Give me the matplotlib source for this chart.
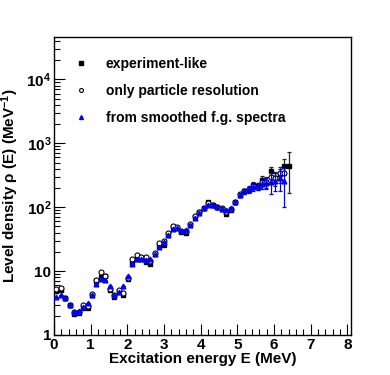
import numpy as np
import matplotlib
matplotlib.use("Agg")
import matplotlib.pyplot as plt
from matplotlib.lines import Line2D
from matplotlib.ticker import FixedLocator, FuncFormatter, MultipleLocator

plt.rcParams['font.family'] = ['Liberation Sans', 'DejaVu Sans']
plt.rcParams['font.weight'] = 'bold'
plt.rcParams['mathtext.fontset'] = 'custom'
plt.rcParams['mathtext.rm'] = 'Liberation Sans:bold'
plt.rcParams['mathtext.bf'] = 'Liberation Sans:bold'
plt.rcParams['mathtext.it'] = 'Liberation Sans:bold'

# ---- data ----
bin_width = 0.122
first_center = 0.06
n_bins = 53
energy = first_center + bin_width * np.arange(n_bins)

experiment_like = [4.8, 5.0, 3.8, 3.0, 2.15, 2.2, 2.6, 2.65, 4.3, 6.9,
                   8.1, 8.3, 5.0, 4.0, 4.7, 4.3, 7.4, 13.5, 15.7, 15.6,
                   13.7, 12.8, 18.8, 25, 26, 37, 47, 47, 41, 40,
                   53, 70, 83, 97, 119, 109, 100, 95, 79, 91,
                   119, 157, 177, 185, 225, 213, 269, 247, 363, 286,
                   333, 446, 446]
experiment_err = [0, 0, 0, 0, 0, 0, 0, 0, 0, 0,
                  0, 0, 0, 0, 0, 0, 0, 0, 0, 0,
                  0, 0, 0, 0, 0, 0, 1, 1, 1, 1,
                  2, 2, 3, 3, 4, 4, 4, 4, 4, 5,
                  8, 12, 15, 18, 25, 28, 40, 45, 70, 70,
                  90, 130, 280]

particle_res = [5.3, 5.4, 3.8, 3.0, 2.3, 2.25, 2.95, 2.8, 4.4, 7.2,
                9.6, 8.5, 5.2, 4.2, 5.0, 4.6, 7.8, 15.2, 17.8, 16.7,
                16.7, 14.5, 19.0, 27.6, 30, 39, 50, 49, 43, 42,
                54, 73.6, 84, 98, 118, 110, 101, 96, 85, 93,
                120, 158, 178, 190, 215, 210, 250, 250, 300, 290,
                340, 338, np.nan]

smoothed_fg = [3.9, 4.3, 3.8, 3.0, 2.3, 2.4, 2.7, 3.2, 4.3, 6.2,
               7.5, 7.3, 5.8, 4.3, 4.7, 5.8, 8.3, 13.1, 15.7, 15.6,
               14.8, 15.6, 18.8, 24, 29, 37, 45.6, 46.5, 43, 44,
               53, 67, 82, 97, 110, 108, 100, 95, 91, 97,
               119, 157, 177, 193, 206, 213, 230, 240, 248, 257,
               290, 257, np.nan]
smoothed_err = [0, 0, 0, 0, 0, 0, 0, 0, 0, 0,
                0, 0, 0, 0, 0, 0, 0, 0, 0, 0,
                0, 0, 0, 0, 0, 0, 1, 1, 1, 1,
                2, 2, 3, 3, 4, 4, 4, 4, 4, 5,
                8, 12, 15, 20, 25, 30, 40, 50, 90, 80,
                110, 155, np.nan]

labels = ["experiment-like", "only particle resolution", "from smoothed f.g. spectra"]

# ---- figure ----
fig = plt.figure(figsize=(3.9, 3.75), dpi=100)
ax = fig.add_axes([54/390, 1-335/375, (351-54)/390, (335-37)/375])

ax.errorbar(energy, experiment_like, yerr=experiment_err, fmt='s', color='black',
            ecolor='#222222', elinewidth=0.9, capsize=1.5, capthick=0.9,
            markersize=3.2, zorder=3)
ax.plot(energy, particle_res, 'o', mfc='white', mec='black', mew=0.8,
        markersize=3.6, zorder=4)
ax.errorbar(energy, smoothed_fg, yerr=smoothed_err, fmt='^', color='#0000ff',
            ecolor='#0000ff', elinewidth=0.9, capsize=1.5, capthick=0.9,
            markersize=3.4, zorder=5)

ax.set_yscale('log')
ax.set_xlim(0, 8.1)
ax.set_ylim(1, 4.6e4)

ax.xaxis.set_major_locator(MultipleLocator(1))
ax.xaxis.set_minor_locator(MultipleLocator(0.2))
ax.yaxis.set_major_locator(FixedLocator([1, 10, 100, 1000, 10000]))
minor = [m * 10**d for d in range(0, 5) for m in range(2, 10)]
ax.yaxis.set_minor_locator(FixedLocator(minor))

def yfmt(v, pos):
    e = int(round(np.log10(v)))
    if e == 0:
        return "1"
    if e == 1:
        return "10"
    return r"$\mathbf{10^{%d}}$" % e
ax.yaxis.set_major_formatter(FuncFormatter(yfmt))
ax.yaxis.set_minor_formatter(FuncFormatter(lambda v, p: ""))

ax.tick_params(which='both', direction='in', top=False, right=False,
               labelsize=11, width=0.8)
ax.tick_params(axis='x', which='major', length=8, pad=2)
ax.tick_params(axis='x', which='minor', length=4)
ax.tick_params(axis='y', which='major', length=8, pad=2)
ax.tick_params(axis='y', which='minor', length=4)
for lab in ax.get_xticklabels() + ax.get_yticklabels():
    lab.set_fontweight('bold')
for s in ax.spines.values():
    s.set_linewidth(1.0)

ax.set_xlabel("Excitation energy E (MeV)", fontsize=11, fontweight='bold', labelpad=0)
ax.set_ylabel(r"Level density $\rho$ (E) (MeV$^{\mathbf{-1}}$)", fontsize=11,
              fontweight='bold', labelpad=4)

handles = [
    Line2D([], [], ls='none', marker='s', color='black', markersize=2.6),
    Line2D([], [], ls='none', marker='o', mfc='white', mec='black', mew=0.8, markersize=2.8),
    Line2D([], [], ls='none', marker='^', color='#0000ff', markersize=2.8),
]
leg = ax.legend(handles, labels, loc='upper left', bbox_to_anchor=(0.024, 0.975),
                frameon=False, fontsize=10, handlelength=1.0,
                handletextpad=1.3, labelspacing=0.95, numpoints=1)
for t in leg.get_texts():
    t.set_fontweight('bold')

fig.savefig("out.png", dpi=100)
